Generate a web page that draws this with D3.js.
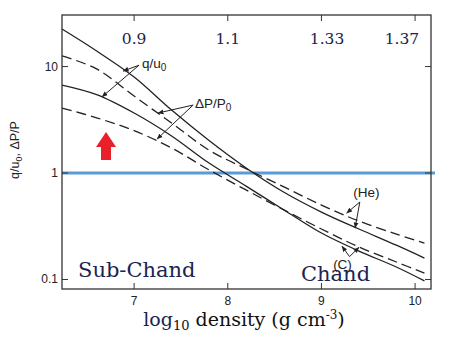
<!DOCTYPE html>
<html>
<head>
<meta charset="utf-8">
<script src="https://cdn.jsdelivr.net/npm/d3@7"></script>
<style>
body { margin: 0; background: #fff; }
</style>
</head>
<body>
<svg id="chart" width="456" height="350"></svg>
<script>
// log10 density grid the curves were read at
var density = [6.23, 6.6, 7.0, 7.4, 7.8, 8.2, 8.6, 9.0, 9.4, 9.8, 10.1];

// q/u0 (solid) and dP/P0 (dashed), for He and C
var heQ  = [22.5, 14.0, 7.97, 3.90, 2.02, 1.11, 0.66, 0.43, 0.298, 0.21, 0.159];
var heDP = [12.6, 9.5, 5.28, 2.95, 1.64, 1.09, 0.74, 0.50, 0.354, 0.267, 0.220];
var cQ   = [6.70, 5.45, 3.66, 2.23, 1.24, 0.75, 0.45, 0.273, 0.185, 0.131, 0.097];
var cDP  = [4.08, 3.30, 2.50, 1.72, 1.07, 0.69, 0.45, 0.298, 0.202, 0.146, 0.115];

var xTicks = [7, 8, 9, 10];
var yTicks = [0.1, 1, 10];
var yTickLabels = ["0.1", "1", "10"];

// numbers written along the top
var topLabels = ["0.9", "1.1", "1.33", "1.37"];
var topLabelDensity = [7.0, 8.0, 9.06, 9.86];

var svg = d3.select("#chart");
var plotLeft = 62, plotTop = 15, plotRight = 431, plotBottom = 289;

var x = d3.scaleLinear().domain([6.23, 10.17]).range([plotLeft, plotRight]);
var y = d3.scaleLog().domain([0.0814, 30.5]).range([plotBottom, plotTop]);

var series = [
    {values: heQ, dash: null},
    {values: heDP, dash: "10,5"},
    {values: cQ, dash: null},
    {values: cDP, dash: "10,5"}
];

var line = d3.line()
    .x(function(d, i) { return x(density[i]); })
    .y(function(d) { return y(d); })
    .curve(d3.curveCatmullRom.alpha(0.5));

// arrow head marker
svg.append("defs").append("marker")
    .attr("id", "head")
    .attr("viewBox", "0 0 10 10")
    .attr("refX", 9).attr("refY", 5)
    .attr("markerWidth", 6).attr("markerHeight", 6)
    .attr("markerUnits", "userSpaceOnUse")
    .attr("orient", "auto")
    .append("path")
    .attr("d", "M0,1 L10,5 L0,9 Z")
    .attr("fill", "#222");

// blue reference line at 1
svg.append("line")
    .attr("x1", x(6.23)).attr("x2", plotRight + 4)
    .attr("y1", y(1)).attr("y2", y(1))
    .attr("stroke", "#5b9bd5")
    .attr("stroke-width", 3);

svg.selectAll(".curve")
    .data(series)
    .enter()
    .append("path")
    .attr("class", "curve")
    .attr("d", function(d) { return line(d.values); })
    .attr("fill", "none")
    .attr("stroke", "#222")
    .attr("stroke-width", 1.3)
    .attr("stroke-dasharray", function(d) { return d.dash; });

// frame
svg.append("rect")
    .attr("x", plotLeft).attr("y", plotTop)
    .attr("width", plotRight - plotLeft).attr("height", plotBottom - plotTop)
    .attr("fill", "none")
    .attr("stroke", "#333")
    .attr("stroke-width", 1.3);

// ticks, all pointing inward
xTicks.forEach(function(t) {
    svg.append("line").attr("x1", x(t)).attr("x2", x(t))
        .attr("y1", plotBottom).attr("y2", plotBottom - 6).attr("stroke", "#333");
    svg.append("line").attr("x1", x(t)).attr("x2", x(t))
        .attr("y1", plotTop).attr("y2", plotTop + 6).attr("stroke", "#333");
});
yTicks.forEach(function(t) {
    svg.append("line").attr("x1", plotLeft).attr("x2", plotLeft + 6)
        .attr("y1", y(t)).attr("y2", y(t)).attr("stroke", "#333");
    svg.append("line").attr("x1", plotRight).attr("x2", plotRight - 6)
        .attr("y1", y(t)).attr("y2", y(t)).attr("stroke", "#333");
});

svg.selectAll(".xlab")
    .data(xTicks)
    .enter()
    .append("text")
    .attr("x", function(d) { return x(d); })
    .attr("y", 305)
    .attr("text-anchor", "middle")
    .attr("font-family", "Liberation Sans, Arial, sans-serif")
    .attr("font-size", 12)
    .attr("fill", "#222")
    .text(function(d) { return d; });

svg.selectAll(".ylab")
    .data(yTicks)
    .enter()
    .append("text")
    .attr("x", 58)
    .attr("y", function(d) { return y(d) + 4; })
    .attr("text-anchor", "end")
    .attr("font-family", "Liberation Sans, Arial, sans-serif")
    .attr("font-size", 12)
    .attr("fill", "#222")
    .text(function(d, i) { return yTickLabels[i]; });

// y title
var yt = svg.append("text")
    .attr("transform", "translate(19,150) rotate(-90)")
    .attr("text-anchor", "middle")
    .attr("font-family", "Liberation Sans, Arial, sans-serif")
    .attr("font-size", 12.5)
    .attr("fill", "#222");
yt.append("tspan").text("q/u");
yt.append("tspan").attr("font-size", 9).attr("dy", 3).text("0");
yt.append("tspan").attr("dy", -3).text(", ΔP/P");

// top numbers
svg.selectAll(".toplab")
    .data(topLabels)
    .enter()
    .append("text")
    .attr("x", function(d, i) { return x(topLabelDensity[i]); })
    .attr("y", 44)
    .attr("text-anchor", "middle")
    .attr("font-family", "DejaVu Serif, serif")
    .attr("font-size", 15.5)
    .attr("fill", "#1b2450")
    .text(function(d) { return d; });

// region labels
svg.append("text")
    .attr("x", 78).attr("y", 277)
    .attr("font-family", "DejaVu Serif, serif")
    .attr("font-size", 21)
    .attr("fill", "#1b2450")
    .text("Sub-Chand");
svg.append("text")
    .attr("x", 301).attr("y", 281)
    .attr("font-family", "DejaVu Serif, serif")
    .attr("font-size", 21)
    .attr("fill", "#1b2450")
    .text("Chand");

// x title
var xt = svg.append("text")
    .attr("x", 244).attr("y", 326)
    .attr("text-anchor", "middle")
    .attr("font-family", "DejaVu Serif, serif")
    .attr("font-size", 19)
    .attr("fill", "#111");
xt.append("tspan").attr("fill", "#1b2450").text("log");
xt.append("tspan").attr("font-size", 13).attr("dy", 4).text("10");
xt.append("tspan").attr("dy", -4).text(" density (g cm");
xt.append("tspan").attr("font-size", 12).attr("dy", -7).text("-3");
xt.append("tspan").attr("dy", 7).text(")");

// curve labels with their pointer arrows: [density, value]
var annotations = [
    {text: "q/u", sub: "0", at: [7.085, 9.7], from: [7.053, 10.3], tips: [[6.883, 9.07], [6.658, 5.2]]},
    {text: "ΔP/P", sub: "0", at: [7.65, 4.08], from: [7.63, 4.35], tips: [[7.256, 3.66], [7.246, 2.09]]},
    {text: "(He)", sub: "", at: [9.34, 0.595], from: [9.41, 0.534], tips: [[9.27, 0.421], [9.36, 0.305]]},
    {text: "(C)", sub: "", at: [9.125, 0.126], from: [9.30, 0.164], tips: [[9.22, 0.205], [9.40, 0.200]]}
];

annotations.forEach(function(a) {
    a.tips.forEach(function(t) {
        svg.append("line")
            .attr("x1", x(a.from[0])).attr("y1", y(a.from[1]))
            .attr("x2", x(t[0])).attr("y2", y(t[1]))
            .attr("stroke", "#222")
            .attr("stroke-width", 1)
            .attr("marker-end", "url(#head)");
    });
    var t = svg.append("text")
        .attr("x", x(a.at[0])).attr("y", y(a.at[1]))
        .attr("font-family", "Liberation Sans, Arial, sans-serif")
        .attr("font-size", 13.5)
        .attr("fill", "#222");
    t.append("tspan").text(a.text);
    if (a.sub) t.append("tspan").attr("font-size", 10).attr("dy", 3).text(a.sub);
});

// red arrow pointing up
var arrowAt = [6.70, 2.43];
svg.append("path")
    .attr("transform", "translate(" + x(arrowAt[0]) + "," + y(arrowAt[1]) + ")")
    .attr("d", "M0,0 L10,15 L5,15 L5,28 L-5,28 L-5,15 L-10,15 Z")
    .attr("fill", "#e8202a");
</script>
</body>
</html>
